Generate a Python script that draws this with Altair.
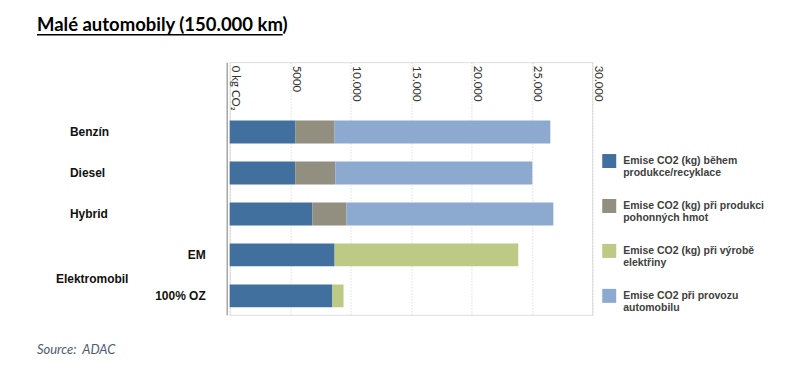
import altair as alt
import pandas as pd

title_text = "Malé automobily (150.000 km)"
source_text = "Source:\u00a0 ADAC"

categories = ["Benzín", "Diesel", "Hybrid", "EM", "100% OZ"]
main_labels = ["Benzín", "Diesel", "Hybrid"]
sub_labels = ["EM", "100% OZ"]
group_label = "Elektromobil"

series = [
    "Emise CO2 (kg) během\nprodukce/recyklace",
    "Emise CO2 (kg) při produkci\npohonných hmot",
    "Emise CO2 (kg) při výrobě\nelektřiny",
    "Emise CO2 při provozu\nautomobilu",
]
colors = ["#41709f", "#928e80", "#bdca86", "#8caad0"]

production = [5450, 5420, 6850, 8680, 8500]
fuel = [3230, 3310, 2820, 0, 0]
electricity = [0, 0, 0, 15200, 920]
operation = [17850, 16310, 17110, 0, 0]

tick_values = [0, 5000, 10000, 15000, 20000, 25000, 30000]
tick_labels = ["0 kg CO₂", "5000", "10.000", "15.000", "20.000", "25.000", "30.000"]

rows = []
for si, vals in enumerate([production, fuel, electricity, operation]):
    for ci, c in enumerate(categories):
        rows.append({"cat": c, "series": series[si], "idx": si, "val": vals[ci]})
df = pd.DataFrame(rows)

label_expr = "''"
for v, l in reversed(list(zip(tick_values, tick_labels))):
    label_expr = f"datum.value == {v} ? '{l}' : ({label_expr})"

yscale = alt.Scale(domain=categories, paddingInner=0.44, paddingOuter=0.805, align=0.886)

bars = alt.Chart(df).mark_bar().encode(
    x=alt.X("val:Q", stack="zero",
            scale=alt.Scale(domain=[0, 30000], nice=False),
            axis=alt.Axis(orient="top", values=tick_values, labelExpr=label_expr,
                          labelAngle=90, labelAlign="left", labelBaseline="bottom",
                          labelPadding=-3, ticks=False, domain=False, labelFlush=False,
                          labelOverlap=False, gridDash=[1, 2], gridColor="#cfcfcf",
                          title=None, labelFont="Lato", labelFontSize=11.5,
                          labelColor="#333333")),
    y=alt.Y("cat:N", scale=yscale,
            axis=alt.Axis(labels=False, ticks=False, title=None, grid=False,
                          domainColor="#a6a6a6", domainWidth=1.5, offset=3)),
    color=alt.Color("series:N", scale=alt.Scale(domain=series, range=colors),
                    legend=alt.Legend(orient="none", legendX=373, legendY=92,
                                      title=None, symbolType="square", symbolSize=196,
                                      symbolStrokeWidth=0, symbolOpacity=1,
                                      labelFont="Liberation Sans", labelFontWeight="bold",
                                      labelFontSize=10.5, labelColor="#404040",
                                      labelLimit=300, labelOffset=7, rowPadding=20,
                                      labelExpr="split(datum.label, '\\n')")),
    order=alt.Order("idx:Q"),
)

main_df = pd.DataFrame({"cat": main_labels})
sub_df = pd.DataFrame({"cat": sub_labels})
grp_df = pd.DataFrame({"cat": ["EM"], "t": [group_label]})

txt_style = dict(font="Liberation Sans", fontWeight="bold", fontSize=12, color="#111111",
                 baseline="middle")

main_txt = alt.Chart(main_df).mark_text(align="left", **txt_style).encode(
    y=alt.Y("cat:N", scale=yscale), x=alt.value(-160), text="cat:N")
sub_txt = alt.Chart(sub_df).mark_text(align="right", **txt_style).encode(
    y=alt.Y("cat:N", scale=yscale), x=alt.value(-24), text="cat:N")
grp_txt = alt.Chart(grp_df).mark_text(align="left", dy=24, **txt_style).encode(
    y=alt.Y("cat:N", scale=yscale), x=alt.value(-174), text="t:N")

title_mark = alt.Chart(pd.DataFrame({"t": [title_text]})).mark_text(
    align="left", baseline="alphabetic", font="Lato", fontWeight="bold",
    fontSize=18.5, color="#000000").encode(
    x=alt.value(-193), y=alt.value(-31), text="t:N")
underline = alt.Chart(pd.DataFrame({"t": [title_text]})).mark_rule(
    color="#000000", strokeWidth=1.4).encode(
    x=alt.value(-193), x2=alt.value(53), y=alt.value(-27.5))
source_mark = alt.Chart(pd.DataFrame({"t": [source_text]})).mark_text(
    align="left", baseline="alphabetic", font="Lato", fontStyle="italic",
    fontSize=13, color="#4f5b70").encode(
    x=alt.value(-193), y=alt.value(292), text="t:N")

chart = alt.layer(bars, main_txt, sub_txt, grp_txt, title_mark, underline, source_mark).properties(
    width=363, height=253,
    padding={"left": 222, "top": 54, "right": 200, "bottom": 50},
    autosize=alt.AutoSizeParams(type="none"),
).configure_view(stroke=None).configure(background="white")

chart.save("out.html", embed_options={"renderer": "svg", "actions": False})
